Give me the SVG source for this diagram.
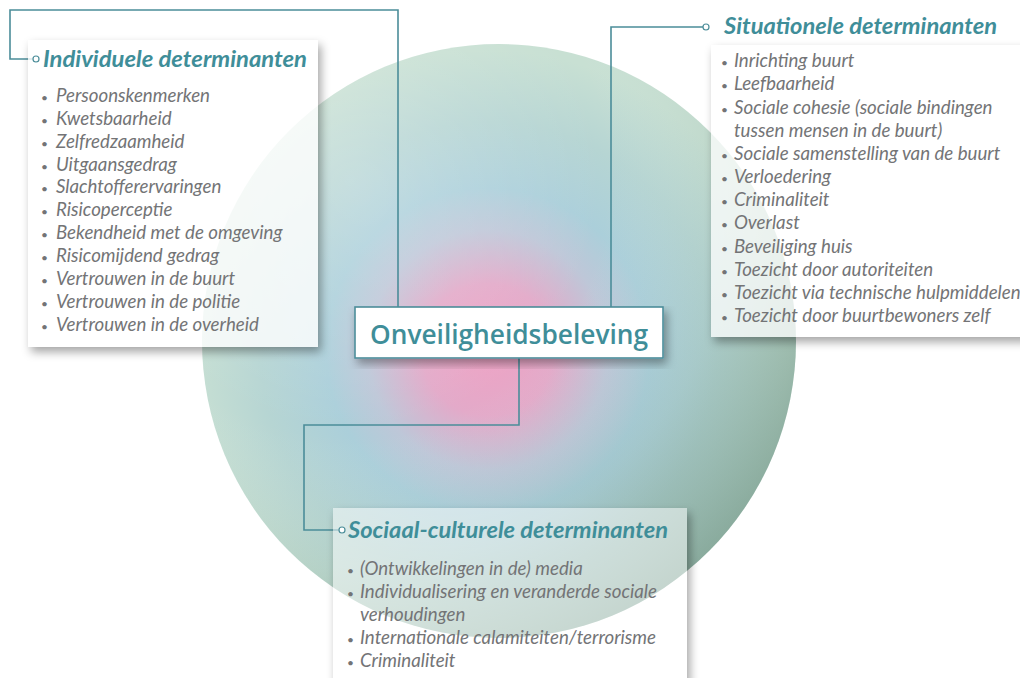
<svg xmlns="http://www.w3.org/2000/svg" width="1020" height="678" viewBox="0 0 1020 678">
<defs>
<style>
.title{font-family:"Lato","Liberation Sans",sans-serif;font-style:italic;font-weight:700;font-size:22px;fill:#3f8e99}
.item{font-family:"Lato","Liberation Sans",sans-serif;font-style:italic;font-size:18.7px;fill:#737476}
.bul{font-size:12px;font-style:normal}
.main{font-family:"Open Sans","Liberation Sans",sans-serif;font-weight:600;font-size:27px;fill:#3f8e99}
.conn{fill:none;stroke:#4b8d99;stroke-width:1.6}
.ring{fill:#fff;stroke:#4b8d99;stroke-width:1.2}
</style>
<radialGradient id="core" gradientUnits="userSpaceOnUse" cx="488" cy="350" r="300">
<stop offset="0" stop-color="#eea2c4"/>
<stop offset="0.22" stop-color="#e3aac9"/>
<stop offset="0.4" stop-color="#bec7d8"/>
<stop offset="0.54" stop-color="#abcfda"/>
<stop offset="0.76" stop-color="#b6d5d3"/>
<stop offset="1" stop-color="#c8e0d3"/>
</radialGradient>
<radialGradient id="shade" gradientUnits="userSpaceOnUse" cx="350" cy="180" r="560">
<stop offset="0" stop-color="#ffffff" stop-opacity="0.25"/>
<stop offset="0.45" stop-color="#ffffff" stop-opacity="0"/>
<stop offset="0.7" stop-color="#56806f" stop-opacity="0.12"/>
<stop offset="1" stop-color="#3f6b5e" stop-opacity="0.6"/>
</radialGradient>
<filter id="sh" x="-10%" y="-10%" width="130%" height="130%">
<feColorMatrix in="SourceAlpha" type="matrix" values="0 0 0 0 0 0 0 0 0 0 0 0 0 0 0 0 0 0 100 0" result="solid"/>
<feGaussianBlur in="solid" stdDeviation="5" result="b"/>
<feOffset in="b" dx="3" dy="5" result="o"/>
<feComposite in="o" in2="solid" operator="out" result="os"/>
<feColorMatrix in="os" type="matrix" values="0 0 0 0 0 0 0 0 0 0 0 0 0 0 0 0 0 0 0.35 0" result="shadow"/>
<feMerge><feMergeNode in="shadow"/><feMergeNode in="SourceGraphic"/></feMerge>
</filter>
</defs>
<rect width="1020" height="678" fill="#ffffff"/>
<g id="sphere">
<circle cx="499" cy="341" r="297" fill="url(#core)"/>
<circle cx="499" cy="341" r="297" fill="url(#shade)"/>
</g>
<g id="connectors">
<path class="conn" d="M398,307 V10 H10 V59 H33"/>
<path class="conn" d="M611,307 V27 H703"/>
<path class="conn" d="M519,358 V425 H304 V530 H339"/>
</g>
<g id="individuele">
<rect x="28" y="40" width="290" height="307" fill="#ffffff" fill-opacity="0.8" filter="url(#sh)"/>
<circle class="ring" cx="36" cy="59" r="3"/>
<text class="title" x="43" y="67" textLength="264" lengthAdjust="spacingAndGlyphs">Individuele determinanten</text>
<text class="item" y="102"><tspan class="bul" x="41">•</tspan><tspan x="56">Persoonskenmerken</tspan></text>
<text class="item" y="125"><tspan class="bul" x="41">•</tspan><tspan x="56">Kwetsbaarheid</tspan></text>
<text class="item" y="148"><tspan class="bul" x="41">•</tspan><tspan x="56">Zelfredzaamheid</tspan></text>
<text class="item" y="171"><tspan class="bul" x="41">•</tspan><tspan x="56">Uitgaansgedrag</tspan></text>
<text class="item" y="193"><tspan class="bul" x="41">•</tspan><tspan x="56">Slachtofferervaringen</tspan></text>
<text class="item" y="216"><tspan class="bul" x="41">•</tspan><tspan x="56">Risicoperceptie</tspan></text>
<text class="item" y="239"><tspan class="bul" x="41">•</tspan><tspan x="56">Bekendheid met de omgeving</tspan></text>
<text class="item" y="262"><tspan class="bul" x="41">•</tspan><tspan x="56">Risicomijdend gedrag</tspan></text>
<text class="item" y="285"><tspan class="bul" x="41">•</tspan><tspan x="56">Vertrouwen in de buurt</tspan></text>
<text class="item" y="308"><tspan class="bul" x="41">•</tspan><tspan x="56">Vertrouwen in de politie</tspan></text>
<text class="item" y="331"><tspan class="bul" x="41">•</tspan><tspan x="56">Vertrouwen in de overheid</tspan></text>
</g>
<g id="situationele">
<rect x="711" y="45" width="320" height="292" fill="#ffffff" fill-opacity="0.75" filter="url(#sh)"/>
<circle class="ring" cx="706" cy="27" r="3"/>
<text class="title" x="724" y="34" textLength="273" lengthAdjust="spacingAndGlyphs">Situationele determinanten</text>
<text class="item" y="67"><tspan class="bul" x="721">•</tspan><tspan x="734">Inrichting buurt</tspan></text>
<text class="item" y="90"><tspan class="bul" x="721">•</tspan><tspan x="734">Leefbaarheid</tspan></text>
<text class="item" y="114"><tspan class="bul" x="721">•</tspan><tspan x="734">Sociale cohesie (sociale bindingen</tspan></text>
<text class="item" x="734" y="137">tussen mensen in de buurt)</text>
<text class="item" y="160"><tspan class="bul" x="721">•</tspan><tspan x="734">Sociale samenstelling van de buurt</tspan></text>
<text class="item" y="183"><tspan class="bul" x="721">•</tspan><tspan x="734">Verloedering</tspan></text>
<text class="item" y="206"><tspan class="bul" x="721">•</tspan><tspan x="734">Criminaliteit</tspan></text>
<text class="item" y="229"><tspan class="bul" x="721">•</tspan><tspan x="734">Overlast</tspan></text>
<text class="item" y="253"><tspan class="bul" x="721">•</tspan><tspan x="734">Beveiliging huis</tspan></text>
<text class="item" y="276"><tspan class="bul" x="721">•</tspan><tspan x="734">Toezicht door autoriteiten</tspan></text>
<text class="item" y="299"><tspan class="bul" x="721">•</tspan><tspan x="734">Toezicht via technische hulpmiddelen</tspan></text>
<text class="item" y="322"><tspan class="bul" x="721">•</tspan><tspan x="734">Toezicht door buurtbewoners zelf</tspan></text>
</g>
<g id="sociaal-culturele">
<rect x="333" y="508" width="354" height="190" fill="#ffffff" fill-opacity="0.5" filter="url(#sh)"/>
<circle class="ring" cx="342" cy="530" r="3"/>
<text class="title" x="348" y="538" textLength="320" lengthAdjust="spacingAndGlyphs">Sociaal-culturele determinanten</text>
<text class="item" y="575"><tspan class="bul" x="347">•</tspan><tspan x="360">(Ontwikkelingen in de) media</tspan></text>
<text class="item" y="598"><tspan class="bul" x="347">•</tspan><tspan x="360">Individualisering en veranderde sociale</tspan></text>
<text class="item" x="360" y="621">verhoudingen</text>
<text class="item" y="644"><tspan class="bul" x="347">•</tspan><tspan x="360">Internationale calamiteiten/terrorisme</tspan></text>
<text class="item" y="667"><tspan class="bul" x="347">•</tspan><tspan x="360">Criminaliteit</tspan></text>
</g>
<g id="onveiligheidsbeleving">
<rect x="355" y="307" width="308" height="51" fill="#ffffff" stroke="#4b8d99" stroke-width="1.6" filter="url(#sh)"/>
<text class="main" x="509" y="344" text-anchor="middle" textLength="278" lengthAdjust="spacingAndGlyphs">Onveiligheidsbeleving</text>
</g>
</svg>
